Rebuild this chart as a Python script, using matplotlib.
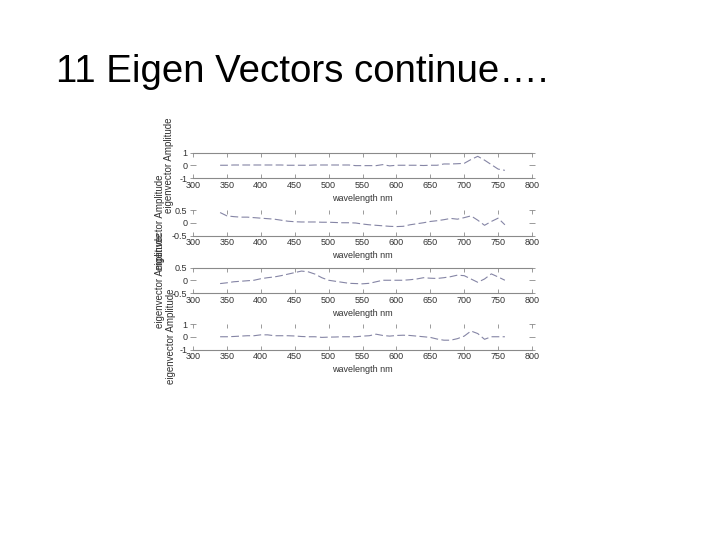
import matplotlib
matplotlib.use("Agg")
import matplotlib.pyplot as plt
from matplotlib import font_manager

names = {f.name for f in font_manager.fontManager.ttflist}
NARROW = "Liberation Sans Narrow" if "Liberation Sans Narrow" in names else None
FAM = ([NARROW] if NARROW else []) + ["Liberation Sans", "DejaVu Sans"]

plt.rcParams.update({
    "font.family": FAM,
    "axes.unicode_minus": False,
})

# wavelength grid (nm) shared by the four eigenvectors
wavelength = list(range(340, 770, 10))

ev1 = [0.0, 0.0, 0.02, 0.02, 0.02, 0.02, 0.02, 0.02, 0.02, 0.02, 0.0, 0.0,
       0.0, 0.0, 0.02, 0.02, 0.02, 0.02, 0.02, 0.02, -0.03, -0.03, -0.03, -0.03,
       0.05, -0.05, 0.0, 0.0, 0.0, 0.0, -0.02, 0.0, 0.0, 0.1, 0.1, 0.12,
       0.15, 0.45, 0.7, 0.4, 0.05, -0.3, -0.4]
ev2 = [0.4, 0.27, 0.24, 0.22, 0.22, 0.2, 0.18, 0.16, 0.14, 0.1, 0.06, 0.04,
       0.03, 0.03, 0.03, 0.02, 0.02, 0.01, 0.0, 0.0, -0.01, -0.05, -0.08, -0.1,
       -0.12, -0.14, -0.15, -0.14, -0.08, -0.04, 0.0, 0.05, 0.08, 0.12, 0.17, 0.14,
       0.2, 0.27, 0.1, -0.1, 0.05, 0.18, -0.08]
ev3 = [-0.13, -0.1, -0.06, -0.04, -0.02, 0.0, 0.06, 0.1, 0.13, 0.18, 0.24, 0.3,
       0.36, 0.33, 0.24, 0.1, 0.0, -0.04, -0.08, -0.12, -0.13, -0.14, -0.12, -0.06,
       0.0, 0.0, 0.0, 0.0, 0.02, 0.05, 0.1, 0.08, 0.07, 0.1, 0.14, 0.2,
       0.18, 0.05, -0.08, 0.05, 0.25, 0.13, 0.0]
ev4 = [0.0, 0.0, 0.02, 0.05, 0.08, 0.08, 0.15, 0.15, 0.08, 0.08, 0.08, 0.06,
       0.02, 0.0, 0.0, -0.05, -0.03, -0.02, 0.0, 0.0, 0.0, 0.05, 0.08, 0.2,
       0.1, 0.05, 0.1, 0.12, 0.1, 0.05, 0.0, -0.05, -0.18, -0.27, -0.27, -0.15,
       0.05, 0.45, 0.25, -0.2, 0.0, 0.0, 0.0]

series = [ev1, ev2, ev3, ev4]
ylims = [(-1, 1), (-0.5, 0.5), (-0.5, 0.5), (-1, 1)]
yticks = [[-1, 0, 1], [-0.5, 0, 0.5], [-0.5, 0, 0.5], [-1, 0, 1]]
xticks = list(range(300, 801, 50))

W, H = 720, 540
fig = plt.figure(figsize=(7.2, 5.4), dpi=100)

# narrow face lets the title be as tall as the slide's without running long
title_size = 33 if NARROW else 27.6
fig.text(56 / W, 1 - 82 / H, "11 Eigen Vectors continue\u2026.", fontsize=title_size,
         ha="left", va="baseline", color="black")

tops = [152.5, 210, 267.5, 324]
label_x = [-0.0575, -0.084, -0.084, -0.05]
SPINE, LINE, TXT = "#8a8a8a", "#8585a5", "#333333"
small = 7 if NARROW else 6.5

for i, (vals, ylim, yt) in enumerate(zip(series, ylims, yticks)):
    top = tops[i]
    ax = fig.add_axes([193 / W, 1 - (top + 25.5) / H, 339 / W, 25.5 / H])
    ax.plot(wavelength, vals, color=LINE, lw=0.8, linestyle=(0, (7, 3)))
    ax.set_xlim(300, 800)
    ax.set_ylim(*ylim)
    ax.set_xticks(xticks)
    ax.set_yticks(yt)
    ax.set_yticklabels([f"{v:g}" for v in yt])
    for s in ("left", "right"):
        ax.spines[s].set_visible(False)
    for s in ("top", "bottom"):
        ax.spines[s].set_color(SPINE)
        ax.spines[s].set_linewidth(0.8)
    if i in (1, 3):
        ax.spines["top"].set_visible(False)
    ax.tick_params(axis="x", direction="in", top=True, length=3, width=0.6,
                   color=SPINE, labelsize=small, labelcolor=TXT, pad=2)
    ax.tick_params(axis="y", direction="inout", right=True, length=4, width=0.6,
                   color=SPINE, labelsize=small, labelcolor=TXT, pad=2)
    ax.set_xlabel("wavelength nm", fontsize=small, color=TXT, labelpad=3)
    ax.set_ylabel("eigenvector Amplitude", fontsize=7.5 if NARROW else 7, color=TXT)
    ax.yaxis.set_label_coords(label_x[i], 0.5)
    ax.patch.set_alpha(0)

fig.savefig("out.png", dpi=100)
